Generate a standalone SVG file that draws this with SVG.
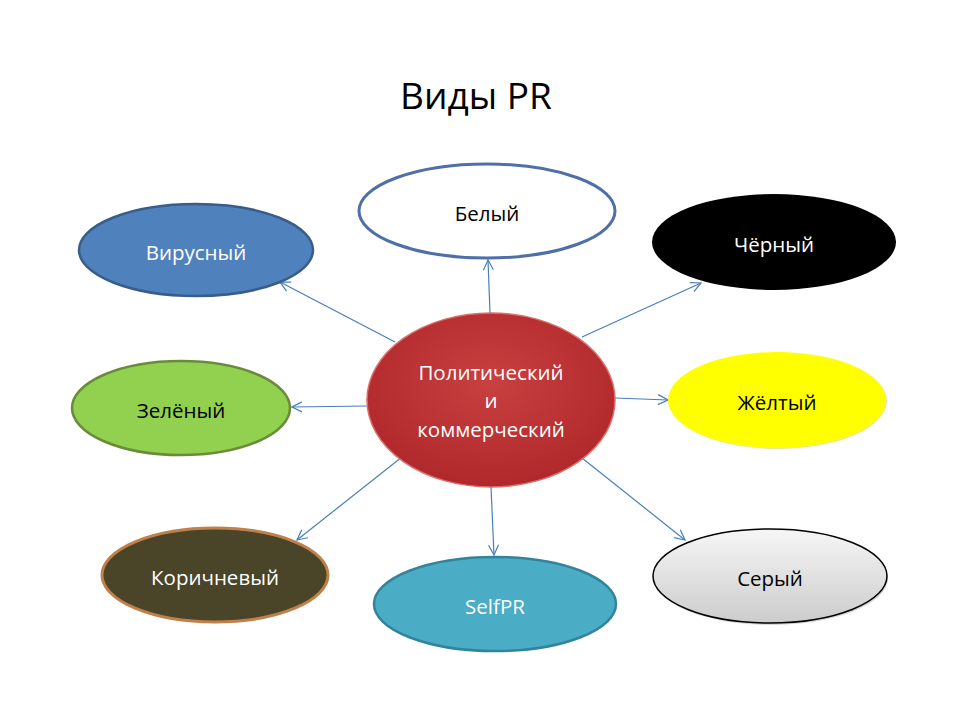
<svg xmlns="http://www.w3.org/2000/svg" width="960" height="720" viewBox="0 0 960 720">
<defs>
<radialGradient id="gRed" cx="50%" cy="40%" r="60%">
<stop offset="0" stop-color="#c8403f"/>
<stop offset="1" stop-color="#b0282b"/>
</radialGradient>
<linearGradient id="gGrey" x1="0" y1="0" x2="0" y2="1">
<stop offset="0" stop-color="#f6f6f6"/>
<stop offset="1" stop-color="#cccccc"/>
</linearGradient>
<marker id="arr" viewBox="0 0 12 12" refX="11" refY="6" markerWidth="12" markerHeight="12" markerUnits="userSpaceOnUse" orient="auto">
<path d="M1,1 L11,6 L1,11" fill="none" stroke="#4a7ebb" stroke-width="1.2"/>
</marker>
</defs>
<style>
text{font-family:"Open Sans","Liberation Sans",sans-serif;text-anchor:middle;dominant-baseline:central;}
.lbl{font-size:20.5px;}
.conn line{stroke:#4a7ebb;stroke-width:1.2;marker-end:url(#arr);}
</style>
<rect width="960" height="720" fill="#ffffff"/>
<text x="476" y="94" style="font-size:37px" fill="#000">Виды PR</text>
<g class="conn">
<line x1="490" y1="313" x2="488" y2="260"/>
<line x1="395" y1="342" x2="280" y2="282"/>
<line x1="582" y1="337" x2="701" y2="283"/>
<line x1="367" y1="406" x2="292" y2="407"/>
<line x1="615" y1="398" x2="668" y2="400"/>
<line x1="402" y1="457" x2="297" y2="540"/>
<line x1="491" y1="487" x2="494" y2="555"/>
<line x1="582" y1="458" x2="685" y2="540"/>
</g>
<g id="center">
<ellipse cx="491" cy="400" rx="124" ry="87" fill="url(#gRed)" stroke="#d9706c" stroke-width="1.5"/>
<text class="lbl" x="491" y="372" fill="#fff">Политический</text>
<text class="lbl" x="491" y="400" fill="#fff">и</text>
<text class="lbl" x="491" y="429" fill="#fff">коммерческий</text>
</g>
<g id="white">
<ellipse cx="487" cy="211" rx="128" ry="47" fill="#fff" stroke="#4f6fa8" stroke-width="3"/>
<text class="lbl" x="487" y="213" fill="#000">Белый</text>
</g>
<g id="viral">
<ellipse cx="196" cy="250" rx="117" ry="46" fill="#4f81bd" stroke="#385d8a" stroke-width="2.5"/>
<text class="lbl" x="196" y="252" fill="#fff">Вирусный</text>
</g>
<g id="black">
<ellipse cx="774" cy="242" rx="122" ry="48" fill="#000"/>
<text class="lbl" x="774" y="244" fill="#fff">Чёрный</text>
</g>
<g id="green">
<ellipse cx="181" cy="408" rx="109" ry="47" fill="#92d050" stroke="#6a8c3a" stroke-width="2.5"/>
<text class="lbl" x="181" y="410" fill="#000">Зелёный</text>
</g>
<g id="yellow">
<ellipse cx="778" cy="401" rx="109" ry="48" fill="#c8b400" opacity="0.35"/>
<ellipse cx="777" cy="400" rx="109" ry="48" fill="#ffff00"/>
<text class="lbl" x="777" y="402" fill="#000">Жёлтый</text>
</g>
<g id="brown">
<ellipse cx="215" cy="575" rx="113" ry="47" fill="#4a4428" stroke="#c0804a" stroke-width="3"/>
<text class="lbl" x="215" y="577" fill="#fff">Коричневый</text>
</g>
<g id="selfpr">
<ellipse cx="495" cy="604" rx="121" ry="47" fill="#4bacc6" stroke="#31849b" stroke-width="2.5"/>
<text class="lbl" x="495" y="606" fill="#fff">SelfPR</text>
</g>
<g id="grey">
<ellipse cx="771" cy="578" rx="117" ry="47" fill="#bbbbbb" opacity="0.6"/>
<ellipse cx="770" cy="576" rx="117" ry="47" fill="url(#gGrey)" stroke="#000" stroke-width="1.5"/>
<text class="lbl" x="770" y="578" fill="#000">Серый</text>
</g>
</svg>
